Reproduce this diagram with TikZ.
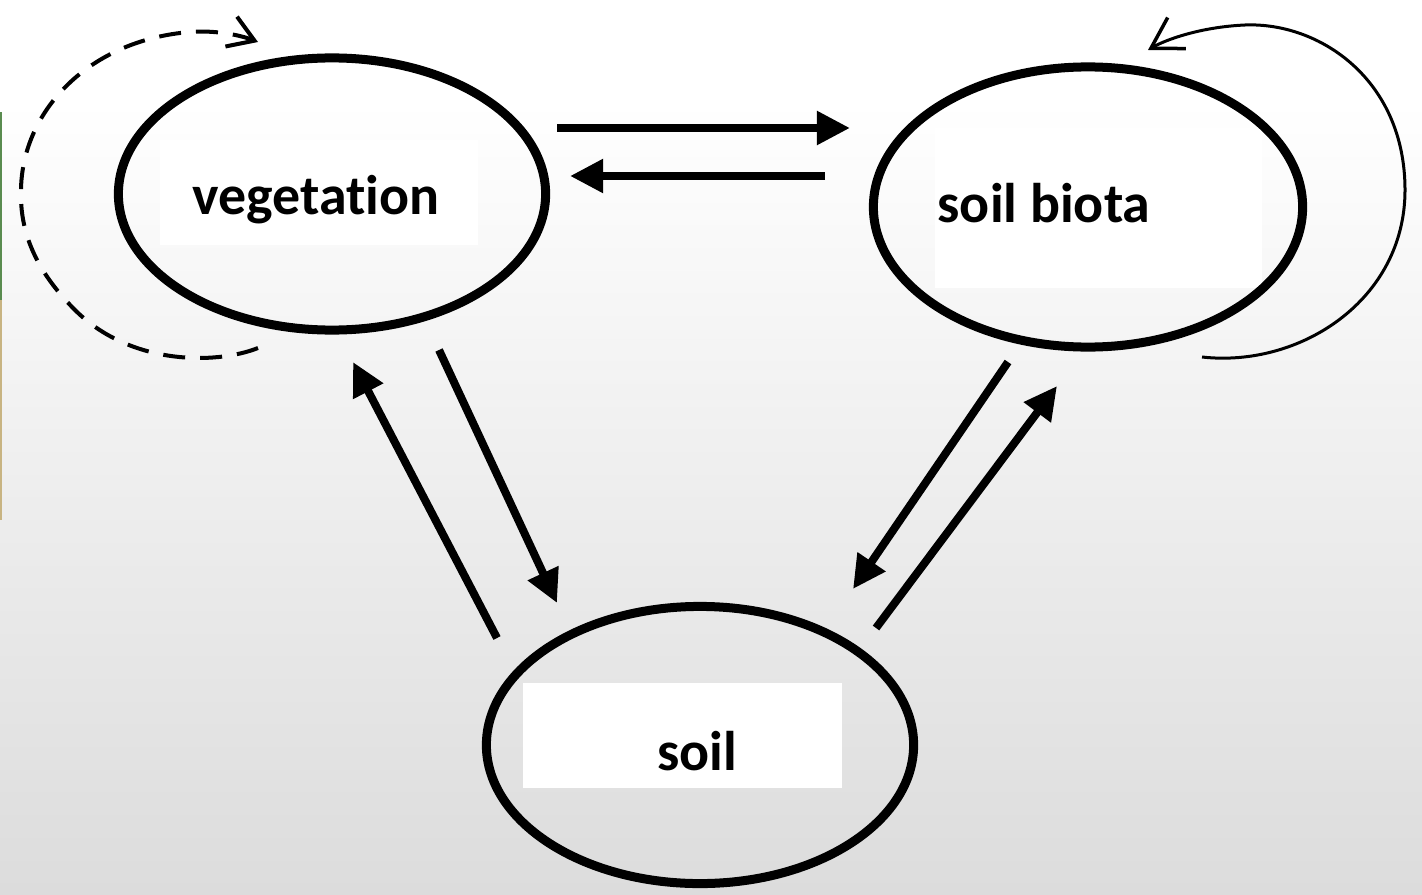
\documentclass[tikz,border=0pt]{standalone}
\usepackage{fontspec}
\setmainfont{Carlito}[Ligatures=NoCommon]
\usetikzlibrary{arrows.meta,shapes.geometric}
\definecolor{bgbot}{RGB}{220,220,220}
\definecolor{stripgreen}{RGB}{90,140,80}
\definecolor{striptan}{RGB}{200,180,130}
\tikzset{
  blob/.style={ellipse, draw=black, line width=0.09cm, inner sep=0pt},
  lbl/.style={inner sep=0pt, anchor=base, font=\fontsize{15.9pt}{19pt}\selectfont\bfseries},
  flow/.style={line width=0.08cm, -{Triangle[length=0.33cm,width=0.32cm]}},
  dashloop/.style={line width=0.04cm, dash pattern=on 0.22cm off 0.15cm, -{Straight Barb[length=0.25cm,width=0.32cm,line width=0.04cm]}},
  solidloop/.style={line width=0.03cm, -{Straight Barb[length=0.3cm,width=0.36cm,line width=0.035cm]}}
}
\begin{document}
\begin{tikzpicture}[x=0.01cm,y=-0.01cm]
  % background
  \useasboundingbox (0,0) rectangle (1422,894);
  \fill[white] (0,0) rectangle (1422,100);
  \shade[top color=white, bottom color=bgbot] (0,100) rectangle (1422,894);
  \fill[stripgreen] (0,112) rectangle (2,300);
  \fill[striptan] (0,300) rectangle (2,520);

  % white label panels
  \fill[white] (160,140) rectangle (478,245);
  \fill[white] (935,128) rectangle (1262,288);
  \fill[white] (523,683) rectangle (842,788);

  % ellipses
  \node[blob, minimum width=4.27cm, minimum height=2.72cm] (veg) at (332,194) {};
  \node[blob, minimum width=4.29cm, minimum height=2.80cm] (bio) at (1088,207) {};
  \node[blob, minimum width=4.27cm, minimum height=2.77cm] (soil) at (700,745) {};

  % labels
  \node[lbl] (tveg) at (316,215) {vegetation};
  \node[lbl] (tbio) at (1044,222) {soil biota};
  \node[lbl] (tsoil) at (697,770) {soil};

  % arrow end points
  \coordinate (vb1) at (557,128);  \coordinate (bv1) at (850,128);
  \coordinate (bv2) at (825,176);  \coordinate (vb2) at (570,176);
  \coordinate (vs1) at (439,350);  \coordinate (sv1) at (557,603);
  \coordinate (sv2) at (497,638);  \coordinate (vs2) at (353,362);
  \coordinate (bs1) at (1008,362); \coordinate (sb1) at (853,589);
  \coordinate (sb2) at (876,628);  \coordinate (bs2) at (1057,386);

  % straight arrows
  \draw[flow] (vb1) -- (bv1);
  \draw[flow] (bv2) -- (vb2);
  \draw[flow] (vs1) -- (sv1);
  \draw[flow] (sv2) -- (vs2);
  \draw[flow] (bs1) -- (sb1);
  \draw[flow] (sb2) -- (bs2);

  % self loops
  \coordinate (dl0) at (258,348);
  \coordinate (dl1) at (258,42);
  \draw[dashloop] (dl0)
    .. controls (215,365) and (130,365) .. (75,310)
    .. controls (30,265) and (20,225) .. (21,190)
    .. controls (22,110) and (90,40) .. (190,32)
    .. controls (215,30) and (240,35) .. (dl1);
  \coordinate (sl0) at (1202,357);
  \coordinate (sl1) at (1148,50);
  \draw[solidloop] (sl0)
    .. controls (1300,368) and (1405,300) .. (1405,190)
    .. controls (1405,80) and (1320,22) .. (1245,25)
    .. controls (1200,27) and (1165,40) .. (sl1);
\end{tikzpicture}
\end{document}
